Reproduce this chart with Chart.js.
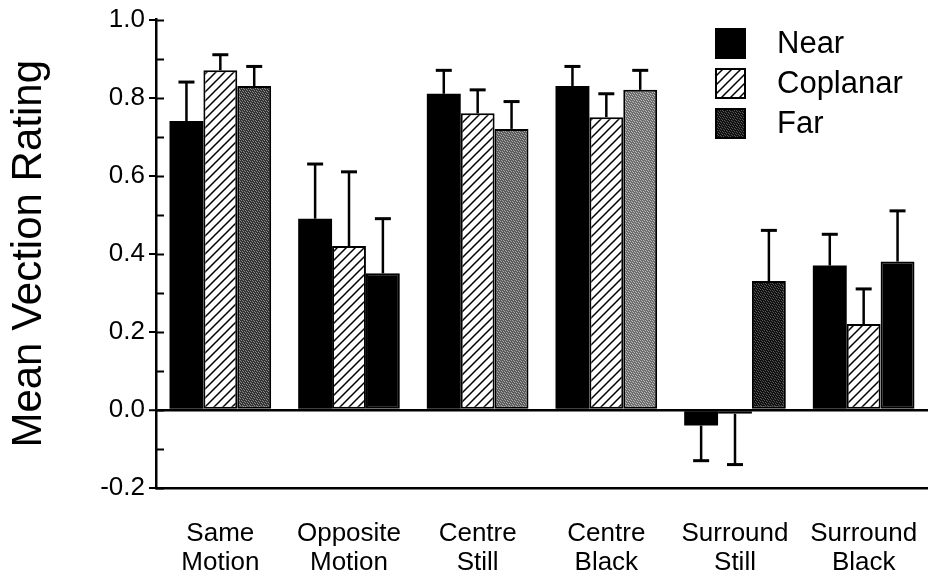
<!DOCTYPE html>
<html>
<head>
<meta charset="utf-8">
<script src="https://cdn.jsdelivr.net/npm/chart.js@4.4.1/dist/chart.umd.min.js"></script>
<style>
  html, body { margin: 0; padding: 0; background: #fff; }
  #vection { display: block; }
</style>
</head>
<body>
<canvas id="vection" width="928" height="573"></canvas>
<script>
// conditions along the x axis
const categories = [
  ['Same', 'Motion'],
  ['Opposite', 'Motion'],
  ['Centre', 'Still'],
  ['Centre', 'Black'],
  ['Surround', 'Still'],
  ['Surround', 'Black']
]
const seriesNames = ['Near', 'Coplanar', 'Far']

// mean vection rating per condition
const nearValues = [0.74, 0.49, 0.81, 0.83, -0.04, 0.37]
const coplanarValues = [0.87, 0.42, 0.76, 0.75, -0.01, 0.22]
const farValues = [0.83, 0.35, 0.72, 0.82, 0.33, 0.38]

// error bar length (one side only, away from zero)
const nearErr = [0.10, 0.14, 0.06, 0.05, 0.09, 0.08]
const coplanarErr = [0.04, 0.19, 0.06, 0.06, 0.13, 0.09]
const farErr = [0.05, 0.14, 0.07, 0.05, 0.13, 0.13]

const yTicks = [-0.2, 0.0, 0.2, 0.4, 0.6, 0.8, 1.0]

const FONT = '"Liberation Sans", Arial, Helvetica, sans-serif'

// --- fill patterns ---------------------------------------------------------
function hatchPattern () {
  const c = document.createElement('canvas')
  c.width = 9
  c.height = 9
  const g = c.getContext('2d')
  g.fillStyle = '#fff'
  g.fillRect(0, 0, 9, 9)
  g.strokeStyle = '#000'
  g.lineWidth = 1.5
  g.beginPath()
  g.moveTo(-1, 10); g.lineTo(10, -1)
  g.moveTo(-2, 2); g.lineTo(2, -2)
  g.moveTo(7, 11); g.lineTo(11, 7)
  g.stroke()
  return g.createPattern(c, 'repeat')
}

function stipplePattern (base, speck) {
  const c = document.createElement('canvas')
  c.width = 7
  c.height = 7
  const g = c.getContext('2d')
  g.fillStyle = base
  g.fillRect(0, 0, 7, 7)
  g.fillStyle = speck
  for (let y = 0; y < 7; y++) {
    for (let x = 0; x < 7; x++) {
      if ((x * 3 + y * 5) % 7 < 2) g.fillRect(x, y, 1, 1)
    }
  }
  return g.createPattern(c, 'repeat')
}

const hatch = hatchPattern()
const stipDark = stipplePattern('#333', '#8a8a8a')
const stipMid = stipplePattern('#5c5c5c', '#a8a8a8')
const stipLight = stipplePattern('#6e6e6e', '#b8b8b8')
const stipBlack = stipplePattern('#111', '#555')

// the scan renders some "Far" bars almost black
const farFills = [stipDark, '#000', stipMid, stipLight, stipBlack, '#000']

// --- plugins ---------------------------------------------------------------
const errorBars = {
  id: 'errorBars',
  afterDatasetsDraw (chart) {
    const { ctx, scales: { y } } = chart
    ctx.save()
    ctx.strokeStyle = '#000'
    chart.data.datasets.forEach((ds, i) => {
      const meta = chart.getDatasetMeta(i)
      meta.data.forEach((bar, j) => {
        const v = ds.data[j]
        const tipVal = v >= 0 ? v + ds.errors[j] : v - ds.errors[j]
        const y0 = y.getPixelForValue(v)
        const y1 = y.getPixelForValue(tipVal)
        ctx.lineWidth = 2.5
        ctx.beginPath()
        ctx.moveTo(bar.x, y0)
        ctx.lineTo(bar.x, y1)
        ctx.stroke()
        ctx.lineWidth = 3
        ctx.beginPath()
        ctx.moveTo(bar.x - 8, y1)
        ctx.lineTo(bar.x + 8, y1)
        ctx.stroke()
      })
    })
    ctx.restore()
  }
}

const innerTicks = {
  id: 'innerTicks',
  afterDraw (chart) {
    const { ctx, chartArea, scales: { y } } = chart
    ctx.save()
    ctx.strokeStyle = '#000'
    ctx.lineWidth = 2
    y.ticks.forEach(t => {
      const py = Math.round(y.getPixelForValue(t.value)) + 0.5
      ctx.beginPath()
      ctx.moveTo(chartArea.left, py)
      ctx.lineTo(chartArea.left + 8, py)
      ctx.stroke()
    })
    ctx.restore()
  }
}

const boxLegend = {
  id: 'boxLegend',
  afterDraw (chart) {
    const { ctx } = chart
    const fills = [chart.data.datasets[0].backgroundColor, hatch, stipBlack]
    ctx.save()
    ctx.font = '31px ' + FONT
    ctx.textBaseline = 'middle'
    ctx.fillStyle = '#000'
    seriesNames.forEach((name, i) => {
      const top = 28 + i * 40
      ctx.fillStyle = fills[i]
      ctx.fillRect(715, top, 31, 31)
      ctx.strokeStyle = '#000'
      ctx.lineWidth = 2
      ctx.strokeRect(716, top + 1, 29, 29)
      ctx.fillStyle = '#000'
      ctx.fillText(name, 777, top + 16)
    })
    ctx.restore()
  }
}

// --- chart -----------------------------------------------------------------
new Chart(document.getElementById('vection'), {
  type: 'bar',
  data: {
    labels: categories,
    datasets: [
      {
        label: seriesNames[0],
        data: nearValues,
        errors: nearErr,
        backgroundColor: '#000',
        borderColor: '#000',
        borderWidth: 0
      },
      {
        label: seriesNames[1],
        data: coplanarValues,
        errors: coplanarErr,
        backgroundColor: hatch,
        borderColor: '#000',
        borderWidth: 2,
        borderSkipped: false
      },
      {
        label: seriesNames[2],
        data: farValues,
        errors: farErr,
        backgroundColor: farFills,
        borderColor: '#000',
        borderWidth: 2,
        borderSkipped: false
      }
    ]
  },
  options: {
    responsive: false,
    devicePixelRatio: 1,
    animation: false,
    layout: { padding: { top: 15, right: 0, bottom: 0, left: 0 } },
    datasets: {
      bar: { categoryPercentage: 0.79, barPercentage: 1.0 }
    },
    plugins: {
      legend: { display: false },
      tooltip: { enabled: false }
    },
    scales: {
      x: {
        grid: { display: false, drawTicks: false },
        border: { display: true, color: '#000', width: 2.5 },
        ticks: {
          color: '#000',
          font: { family: FONT, size: 26, lineHeight: 1.12 },
          padding: 31,
          maxRotation: 0,
          autoSkip: false
        },
        afterFit (scale) {
          scale.height = 85
          scale.paddingLeft = 0
          scale.paddingRight = 0
        }
      },
      y: {
        min: -0.2,
        max: 1.0,
        afterBuildTicks (scale) {
          const t = []
          for (let k = -2; k <= 10; k++) t.push({ value: k / 10 })
          scale.ticks = t
        },
        grid: {
          drawOnChartArea: true,
          drawTicks: true,
          tickLength: 7,
          lineWidth: ctx => (Math.abs(ctx.tick.value) < 1e-9 ? 2.5 : 0),
          color: ctx => (Math.abs(ctx.tick.value) < 1e-9 ? '#000' : 'rgba(0,0,0,0)'),
          tickColor: ctx => (yTicks.some(v => Math.abs(v - ctx.tick.value) < 1e-9) ? '#000' : 'rgba(0,0,0,0)'),
          tickWidth: 2
        },
        border: { display: true, color: '#000', width: 2.5 },
        ticks: {
          color: '#000',
          font: { family: FONT, size: 26 },
          padding: 4,
          callback: v => {
            const hit = yTicks.find(t => Math.abs(t - v) < 1e-9)
            return hit === undefined ? '' : hit.toFixed(1)
          }
        },
        title: {
          display: true,
          text: 'Mean Vection Rating',
          color: '#000',
          font: { family: FONT, size: 42 },
          padding: { top: 4, bottom: 0 }
        },
        afterFit (scale) { scale.width = 156 }
      }
    }
  },
  plugins: [errorBars, innerTicks, boxLegend]
})
</script>
</body>
</html>
